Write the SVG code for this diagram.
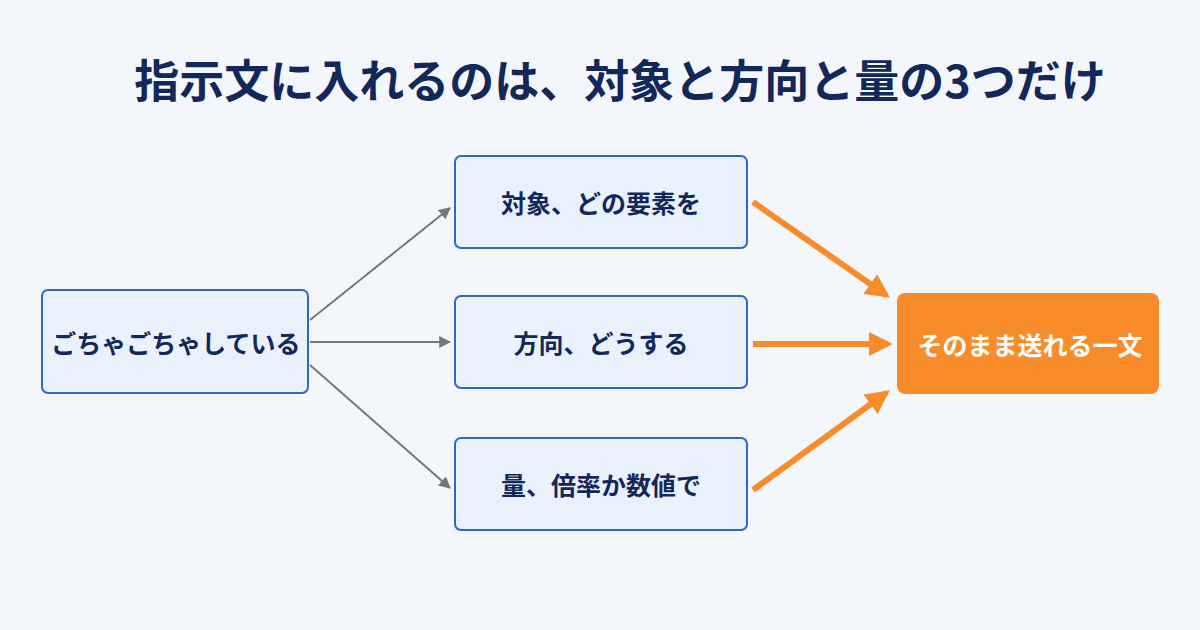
<svg xmlns="http://www.w3.org/2000/svg" width="1200" height="630" viewBox="0 0 1200 630">
<defs>
<style>
.t{font-family:"Noto Sans CJK JP","Noto Sans",sans-serif;font-weight:bold;text-anchor:middle;dominant-baseline:central}
.box{fill:#e8f1fc;stroke:#2d68c4;stroke-width:2}
.lbl{font-size:25px;fill:#13285a}
.g{stroke:#777;stroke-width:2;fill:none}
.o{stroke:#f98c2a;stroke-width:6;fill:none}
</style>
<marker id="ag" viewBox="0 0 10 10" refX="9" refY="5" markerWidth="6" markerHeight="6" orient="auto" markerUnits="strokeWidth"><path d="M0,0L10,5L0,10z" fill="#777"/></marker>
<marker id="ao" viewBox="0 0 10 10" refX="8" refY="5" markerWidth="4" markerHeight="4" orient="auto" markerUnits="strokeWidth"><path d="M0,0L10,5L0,10z" fill="#f98c2a"/></marker>
</defs>
<rect width="1200" height="630" fill="#f3f7fc"/>
<text class="t" x="620" y="78" font-size="45" fill="#13285a">指示文に入れるのは、対象と方向と量の3つだけ</text>
<g id="connectors">
<path class="g" d="M310,320L450,208" marker-end="url(#ag)"/>
<path class="g" d="M310,342L450,342" marker-end="url(#ag)"/>
<path class="g" d="M310,365L450,488" marker-end="url(#ag)"/>
<path class="o" d="M753,202L886,295" marker-end="url(#ao)"/>
<path class="o" d="M753,344L888,344" marker-end="url(#ao)"/>
<path class="o" d="M753,490L886,393" marker-end="url(#ao)"/>
</g>
<g id="n0"><rect class="box" x="42" y="290" width="266" height="103" rx="6"/><text class="t lbl" x="176" y="342" font-size="24">ごちゃごちゃしている</text></g>
<g id="n1"><rect class="box" x="455" y="156" width="292" height="92" rx="6"/><text class="t lbl" x="601" y="202">対象、どの要素を</text></g>
<g id="n2"><rect class="box" x="455" y="296" width="292" height="92" rx="6"/><text class="t lbl" x="601" y="342">方向、どうする</text></g>
<g id="n3"><rect class="box" x="455" y="438" width="292" height="92" rx="6"/><text class="t lbl" x="601" y="484">量、倍率か数値で</text></g>
<g id="n4"><rect x="897" y="293" width="262" height="101" rx="8" fill="#f98c2a"/><text class="t" x="1030" y="344" font-size="25" fill="#fff">そのまま送れる一文</text></g>
</svg>
